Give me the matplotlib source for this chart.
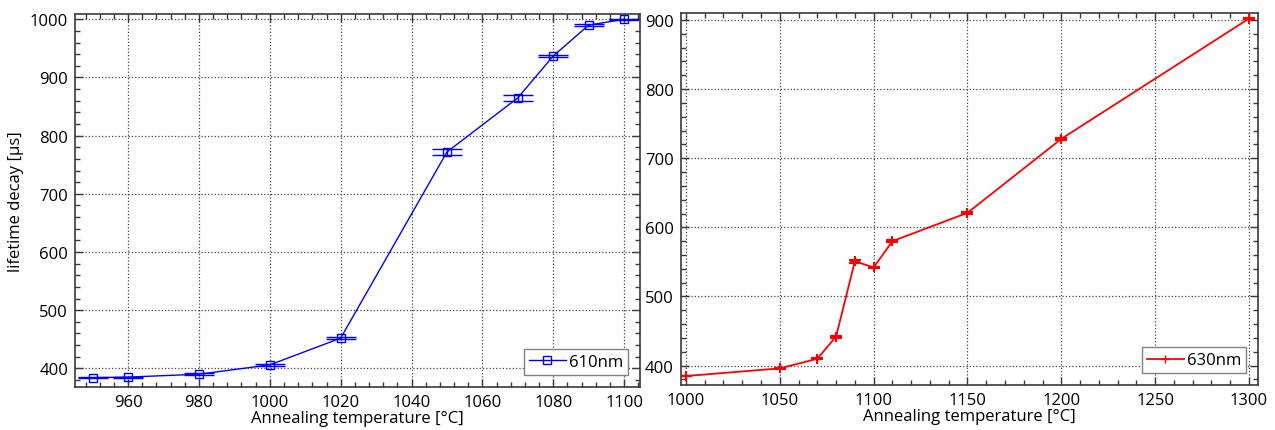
import numpy as np
import matplotlib
matplotlib.use("Agg")
import matplotlib.pyplot as plt
from matplotlib.lines import Line2D
from matplotlib.ticker import MultipleLocator

# 610 nm series (left panel)
temp_610 = [950, 960, 980, 1000, 1020, 1050, 1070, 1080, 1090, 1100]
life_610 = [384, 385, 390, 406, 452, 772, 865, 937, 990, 1000]
err_610 = [1, 1, 1.5, 1.5, 1.5, 5, 5, 1.5, 2, 1]

# 630 nm series (right panel)
temp_630 = [1000, 1050, 1070, 1080, 1090, 1100, 1110, 1150, 1200, 1300]
life_630 = [385, 396, 410, 442, 551, 542, 580, 621, 728, 902]
err_630 = [0.5, 1, 1, 1.5, 2, 1, 1, 1.5, 1.5, 1]

plt.rcParams["font.family"] = ["Open Sans", "DejaVu Sans"]
plt.rcParams["font.size"] = 12

SPINE = "#3a3a3a"


def style(ax, xmaj, xmin, ymaj, ymin):
    ax.xaxis.set_major_locator(MultipleLocator(xmaj))
    ax.xaxis.set_minor_locator(MultipleLocator(xmin))
    ax.yaxis.set_major_locator(MultipleLocator(ymaj))
    ax.yaxis.set_minor_locator(MultipleLocator(ymin))
    ax.tick_params(which="both", direction="in", top=True, right=True,
                   color=SPINE, labelsize=12, pad=5)
    ax.tick_params(which="major", length=6, width=1)
    ax.tick_params(which="minor", length=3.5, width=1)
    ax.grid(True, which="major", ls=":", color="#404040", lw=0.9)
    for s in ax.spines.values():
        s.set_color(SPINE)
        s.set_linewidth(1.2)
    ax.set_xlabel("Annealing temperature [°C]", fontsize=12, labelpad=0)


def add_legend(ax, handle, label):
    leg = ax.legend([handle], [label], loc="lower right", fontsize=12,
                    fancybox=False, framealpha=1, edgecolor="#808080",
                    handlelength=2.2, borderpad=0.3, handletextpad=0.2,
                    borderaxespad=0.7)
    leg.get_frame().set_linewidth(1)


fig = plt.figure(figsize=(12.75, 4.31), dpi=100)
ax1 = fig.add_axes([0.0588, 0.0998, 0.4432, 0.8652])
ax2 = fig.add_axes([0.534, 0.1044, 0.4527, 0.8631])

ax1.errorbar(temp_610, life_610, yerr=err_610, color="#0000ff", lw=1,
             marker="s", ms=6, mfc="none", mew=1, capsize=11, capthick=2.2,
             elinewidth=1)
ax1.set_xlim(945, 1104.5)
ax1.set_ylim(368, 1009)
style(ax1, 20, 4, 100, 20)
ax1.set_ylabel("lifetime decay [µs]", fontsize=12)
add_legend(ax1, Line2D([], [], color="#0000ff", lw=1, marker="s", ms=6,
                       mfc="none", mew=1), "610nm")

ax2.errorbar(temp_630, life_630, yerr=err_630, color="#ff0000", lw=1.3,
             marker="+", ms=7, mew=1.5, capsize=4, capthick=2,
             elinewidth=1)
ax2.set_xlim(997.3, 1304.8)
ax2.set_ylim(372, 910)
style(ax2, 50, 10, 100, 20)
add_legend(ax2, Line2D([], [], color="#ff0000", lw=1.3, marker="+", ms=6,
                       mew=1), "630nm")

fig.savefig("out.png", dpi=100)
